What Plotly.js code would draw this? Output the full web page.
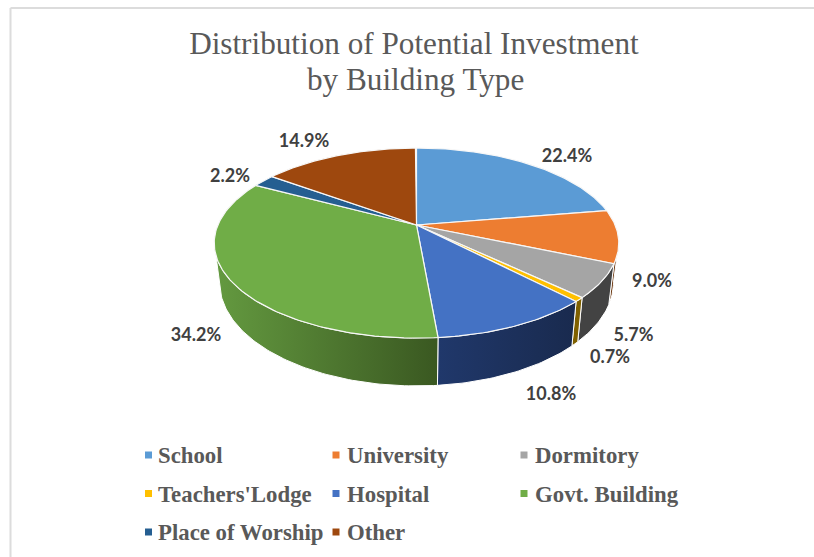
<!DOCTYPE html>
<html><head><meta charset="utf-8">
<script src="https://cdn.plot.ly/plotly-3.0.1.min.js"></script>
<style>html,body{margin:0;padding:0;background:#fff}</style>
</head><body><div id="chart" style="width:814px;height:557px"></div>
<script>
// Data
const categories = ["School","University","Dormitory","Teachers'Lodge","Hospital","Govt. Building","Place of Worship","Other"];
const shares = [22.4, 9.0, 5.7, 0.7, 10.8, 34.2, 2.2, 14.9];
const titleLine1 = "Distribution of Potential Investment";
const titleLine2 = "by Building Type";

// Styles
const topColors = ["#5B9BD5","#ED7D31","#A5A5A5","#FFC000","#4472C4","#70AD47","#255E91","#9E480E"];
const wallLeft  = ["#3C6A95","#6f3c16","#434343","#7F6000","#20386b","#649a40","#163856","#5e2b08"];
const wallRight = ["#3C6A95","#6f3c16","#434343","#7F6000","#192a4e","#3a5821","#163856","#5e2b08"];

// Placement, in picture pixels (the hidden axes run 0-814 and 557-0)
const labelX = [567,652,633.5,610,551,196,230,304];
const labelY = [157,282,336,358,395,336,177,142];
const legendMarkX = [148.5,336,524,148.5,336,524,148.5,336];
const legendMarkY = [455,455,455,493.5,493.5,493.5,532,532];
const legendTextX = [158,347,535,158,347,535,158,347];
const legendTextY = [457,457,457,496,496,496,534.5,534.5];

// Perspective view of the disc: top face and bottom face
const tilt = 0.19;
const topFace = {cx:416.5, cy:225, R:198.6, S:91.6};
const botFace = {cx:416.5, cy:262.5, R:193.4, S:100};
const sideStart = Math.acos(-tilt)*180/Math.PI;   // where the rim turns away on the right
const sideEnd = 360 - sideStart;                  // and on the left
function project(face, deg){
  const t = deg*Math.PI/180, u = Math.sin(t), v = Math.cos(t), w = 1 + tilt*v;
  return [face.cx + face.R*u/w, face.cy - face.S*v/w];
}
function arc(face, a, b){
  const n = Math.max(2, Math.ceil(Math.abs(b-a))), pts = [];
  for(let i=0;i<=n;i++) pts.push(project(face, a+(b-a)*i/n));
  return pts;
}

const traces = [];
let acc = 0;
const bounds = shares.map(s => { const a = acc; acc += s; return [a*3.6, acc*3.6]; });

// Side walls: only the part of the rim that faces the viewer
bounds.forEach(([a,b],i) => {
  const a2 = Math.max(a, sideStart), b2 = Math.min(b, sideEnd);
  if(b2 <= a2) return;
  const pts = arc(topFace,a2,b2).concat(arc(botFace,b2,a2));
  pts.push(pts[0]);
  traces.push({type:'scatter', mode:'lines', x:pts.map(p=>p[0]), y:pts.map(p=>p[1]),
    fill:'toself', line:{color:'#ffffff', width:1},
    fillgradient:{type:'horizontal', colorscale:[[0,wallLeft[i]],[1,wallRight[i]]]},
    hoverinfo:'skip', showlegend:false});
});
// Top faces
bounds.forEach(([a,b],i) => {
  const pts = [[topFace.cx,topFace.cy]].concat(arc(topFace,a,b));
  pts.push(pts[0]);
  traces.push({type:'scatter', mode:'lines', x:pts.map(p=>p[0]), y:pts.map(p=>p[1]),
    fill:'toself', fillcolor:topColors[i], line:{color:'#f7f7f7', width:1.2},
    name:categories[i], text:categories[i]+': '+shares[i].toFixed(1)+'%', hoverinfo:'text', showlegend:false});
});
// Value labels
traces.push({type:'scatter', mode:'text', x:labelX, y:labelY,
  text:shares.map(s=>s.toFixed(1)+'%'), textposition:'middle center',
  textfont:{family:'Lato, sans-serif', size:18, color:'#404040', weight:700},
  hoverinfo:'skip', showlegend:false});
// Key
traces.push({type:'scatter', mode:'markers', x:legendMarkX, y:legendMarkY,
  marker:{symbol:'square', size:7, color:topColors, line:{width:0}}, hoverinfo:'skip', showlegend:false});
traces.push({type:'scatter', mode:'text', x:legendTextX, y:legendTextY, text:categories,
  textposition:'middle right',
  textfont:{family:'"Liberation Serif", serif', size:22.8, color:'#595959', weight:700},
  hoverinfo:'skip', showlegend:false});

const titleFont = {family:'"Liberation Serif", serif', size:31.2, color:'#595959'};
const layout = {
  width:814, height:557, margin:{l:0,r:0,t:0,b:0},
  paper_bgcolor:'#ffffff', plot_bgcolor:'#ffffff', showlegend:false,
  title:{text:titleLine1, x:0.5085, xanchor:'center', y:1-43/557, yanchor:'middle', font:titleFont},
  annotations:[{text:titleLine2, x:415, y:79, xref:'x', yref:'y', showarrow:false, xanchor:'center', yanchor:'middle', font:titleFont}],
  xaxis:{range:[0,814], visible:false, fixedrange:true},
  yaxis:{range:[557,0], visible:false, fixedrange:true},
  shapes:[
    {type:'line', x0:10.5, x1:10.5, y0:8, y1:557, line:{color:'#dcdcdc', width:2}},
    {type:'line', x0:10.5, x1:814, y0:8, y1:8, line:{color:'#dcdcdc', width:2}}
  ]
};
Plotly.newPlot('chart', traces, layout, {displayModeBar:false, staticPlot:true});
</script></body></html>
